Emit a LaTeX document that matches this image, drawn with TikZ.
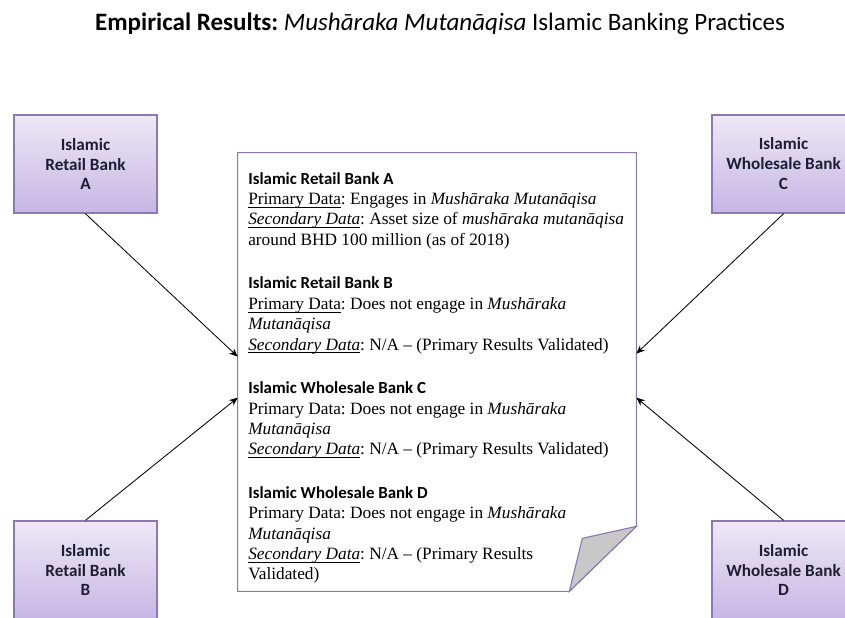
\documentclass[tikz,border=0pt]{standalone}
\usepackage{fontspec}
\setmainfont{Liberation Serif}
\newfontfamily\calibri{Carlito}
\usetikzlibrary{arrows.meta,positioning,calc}

\definecolor{lilacline}{RGB}{140,120,180}
\definecolor{lilactop}{RGB}{237,232,246}
\definecolor{lilacbot}{RGB}{198,182,228}
\definecolor{foldgray}{RGB}{200,200,200}
\definecolor{banktext}{RGB}{30,30,50}

\newcommand{\bankhd}[1]{{\calibri\bfseries\fontsize{12}{14.5}\selectfont #1}}
\newsavebox{\ulbox}
\newcommand{\wul}[1]{\sbox{\ulbox}{#1}\rlap{\rule[-2.2pt]{\wd\ulbox}{0.5pt}}\usebox{\ulbox}}

\begin{document}
\frenchspacing
\begin{tikzpicture}[x=0.025cm, y=-0.025cm,
    bankbox/.style={draw=lilacline, line width=1pt,
                    top color=lilactop, bottom color=lilacbot,
                    minimum width=3.575cm, minimum height=2.45cm,
                    inner sep=0pt, align=center, text=banktext,
                    font=\calibri\bfseries\fontsize{12.2}{14.2}\selectfont},
    notebox/.style={minimum width=9.95cm, minimum height=10.95cm, inner sep=0pt},
    notetext/.style={anchor=north west, inner sep=0pt, align=left,
                     font=\fontsize{12.3}{14.5}\selectfont},
    feed/.style={-{Stealth[length=6pt,width=5pt]}, line width=0.6pt, black},
]
\useasboundingbox (0,0) rectangle (845,617);

% Title
\node[font=\calibri\fontsize{17.8}{21}\selectfont] (title) at (440,24)
    {\textbf{Empirical Results:} \textit{Mushāraka Mutanāqisa} Islamic Banking Practices};

% Banks
\node[bankbox] (bankA) at (85.5,164) {Islamic\\Retail Bank\\A};
\node[bankbox] (bankB) at (85.5,570) {Islamic\\Retail Bank\\B};
\node[bankbox] (bankC) at (783.5,164) {Islamic\\Wholesale Bank\\C};
\node[bankbox] (bankD) at (783.5,570) {Islamic\\Wholesale Bank\\D};

% Note with folded corner
\node[notebox] (note) at (437,372) {};
\coordinate (foldtop) at ($(note.south east)+(0,-65)$);
\coordinate (foldbot) at ($(note.south east)+(-67,0)$);
\coordinate (foldin) at ($(note.south east)+(-54,-53)$);
\draw[lilacline, line width=0.8pt, fill=white]
    (note.north west) -- (note.north east) -- (foldtop) -- (foldbot)
    -- (note.south west) -- cycle;
\draw[lilacline, line width=0.8pt, fill=foldgray]
    (foldtop) -- (foldin) -- (foldbot) -- cycle;

\node[notetext] (notebody) at (248,172) {%
\bankhd{Islamic Retail Bank A}\\
\wul{Primary Data}: Engages in \textit{Mushāraka Mutanāqisa}\\
\wul{\textit{Secondary Data}}: Asset size of \textit{mushāraka mutanāqisa}\\
around BHD 100 million (as of 2018)\\[16.5pt]
\bankhd{Islamic Retail Bank B}\\
\wul{Primary Data}: Does not engage in \textit{Mushāraka}\\
\textit{Mutanāqisa}\\
\wul{\textit{Secondary Data}}: N/A -- (Primary Results Validated)\\[16.5pt]
\bankhd{Islamic Wholesale Bank C}\\
Primary Data: Does not engage in \textit{Mushāraka}\\
\textit{Mutanāqisa}\\
\wul{\textit{Secondary Data}}: N/A -- (Primary Results Validated)\\[16.5pt]
\bankhd{Islamic Wholesale Bank D}\\
Primary Data: Does not engage in \textit{Mushāraka}\\
\textit{Mutanāqisa}\\
\wul{\textit{Secondary Data}}: N/A -- (Primary Results\\
Validated)};

% Arrow ends on the note
\coordinate (inA) at ($(note.north west)+(0,204)$);
\coordinate (inB) at ($(note.north west)+(0,245)$);
\coordinate (inC) at ($(note.north east)+(0,201)$);
\coordinate (inD) at ($(note.north east)+(0,245)$);

\draw[feed] (bankA.south) -- (inA);
\draw[feed] (bankB.north) -- (inB);
\draw[feed] (bankC.south) -- (inC);
\draw[feed] (bankD.north) -- (inD);

\end{tikzpicture}
\end{document}
